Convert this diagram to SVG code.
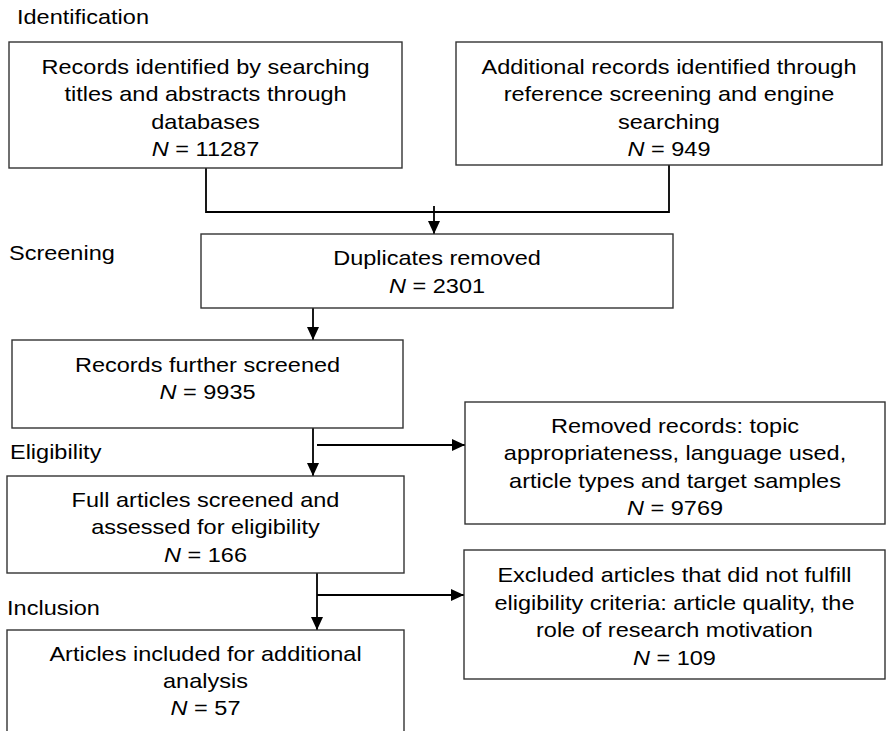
<svg xmlns="http://www.w3.org/2000/svg" width="887" height="731" viewBox="0 0 887 731">
<style>
.box{fill:#fff;stroke:#333;stroke-width:1.4}
.t{font-family:"Liberation Sans",Arial,sans-serif;font-size:21px;fill:#000;text-anchor:middle}
.lbl{font-family:"Liberation Sans",Arial,sans-serif;font-size:21px;fill:#000}
.c{fill:none;stroke:#000;stroke-width:1.8}
.i{font-style:italic}
</style>
<defs>
<marker id="ah" markerUnits="userSpaceOnUse" markerWidth="14" markerHeight="14" viewBox="0 0 14 14" refX="13" refY="7" orient="auto">
<path d="M0,1 L13,7 L0,13 Z" fill="#000"/>
</marker>
</defs>
<g id="labels" transform="scale(1.12,1)">
<text class="lbl" x="15.2" y="24">Identification</text>
<text class="lbl" x="8" y="260">Screening</text>
<text class="lbl" x="8.9" y="459">Eligibility</text>
<text class="lbl" x="6.3" y="615">Inclusion</text>
</g>
<g id="connectors">
<path class="c" d="M206,168 V212 H669 V165"/>
<path class="c" d="M434,206 V234" marker-end="url(#ah)"/>
<path class="c" d="M313,308 V340" marker-end="url(#ah)"/>
<path class="c" d="M313,428 V476" marker-end="url(#ah)"/>
<path class="c" d="M317,445 H465" marker-end="url(#ah)"/>
<path class="c" d="M317,573 V630" marker-end="url(#ah)"/>
<path class="c" d="M317,595 H464" marker-end="url(#ah)"/>
</g>
<g id="n1">
<rect class="box" x="9" y="42" width="393" height="126"/>
<g transform="scale(1.12,1)">
<text class="t" x="183.5" y="74">Records identified by searching</text>
<text class="t" x="183.5" y="101.3">titles and abstracts through</text>
<text class="t" x="183.5" y="128.6">databases</text>
<text class="t" x="183.5" y="156"><tspan class="i">N</tspan> = 11287</text>
</g>
</g>
<g id="n2">
<rect class="box" x="456" y="42" width="426" height="123"/>
<g transform="scale(1.12,1)">
<text class="t" x="597.3" y="74">Additional records identified through</text>
<text class="t" x="597.3" y="101.3">reference screening and engine</text>
<text class="t" x="597.3" y="128.6">searching</text>
<text class="t" x="597.3" y="156"><tspan class="i">N</tspan> = 949</text>
</g>
</g>
<g id="n3">
<rect class="box" x="201" y="234" width="472" height="74"/>
<g transform="scale(1.12,1)">
<text class="t" x="390.2" y="265">Duplicates removed</text>
<text class="t" x="390.2" y="293"><tspan class="i">N</tspan> = 2301</text>
</g>
</g>
<g id="n4">
<rect class="box" x="12" y="340" width="391" height="88"/>
<g transform="scale(1.12,1)">
<text class="t" x="185.3" y="372">Records further screened</text>
<text class="t" x="185.3" y="399"><tspan class="i">N</tspan> = 9935</text>
</g>
</g>
<g id="n5">
<rect class="box" x="465" y="402" width="420" height="122"/>
<g transform="scale(1.12,1)">
<text class="t" x="602.7" y="433">Removed records: topic</text>
<text class="t" x="602.7" y="460.3">appropriateness, language used,</text>
<text class="t" x="602.7" y="487.6">article types and target samples</text>
<text class="t" x="602.7" y="515"><tspan class="i">N</tspan> = 9769</text>
</g>
</g>
<g id="n6">
<rect class="box" x="7" y="476" width="397" height="97"/>
<g transform="scale(1.12,1)">
<text class="t" x="183.5" y="507">Full articles screened and</text>
<text class="t" x="183.5" y="534.5">assessed for eligibility</text>
<text class="t" x="183.5" y="562"><tspan class="i">N</tspan> = 166</text>
</g>
</g>
<g id="n7">
<rect class="box" x="464" y="550" width="421" height="129"/>
<g transform="scale(1.12,1)">
<text class="t" x="602.2" y="582.5">Excluded articles that did not fulfill</text>
<text class="t" x="602.2" y="610">eligibility criteria: article quality, the</text>
<text class="t" x="602.2" y="637.5">role of research motivation</text>
<text class="t" x="602.2" y="665"><tspan class="i">N</tspan> = 109</text>
</g>
</g>
<g id="n8">
<rect class="box" x="7" y="630" width="397" height="115"/>
<g transform="scale(1.12,1)">
<text class="t" x="183.5" y="661">Articles included for additional</text>
<text class="t" x="183.5" y="688">analysis</text>
<text class="t" x="183.5" y="715"><tspan class="i">N</tspan> = 57</text>
</g>
</g>
</svg>
